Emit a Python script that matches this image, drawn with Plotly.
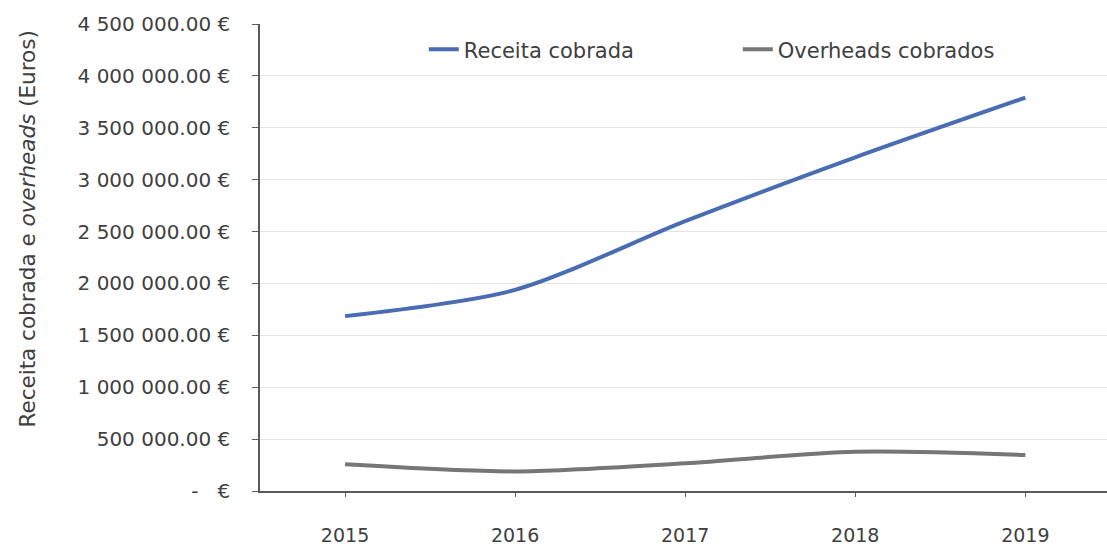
import plotly.graph_objects as go

# Annual values (EUR)
years = ["2015", "2016", "2017", "2018", "2019"]
receita_cobrada = [1685000, 1938000, 2600000, 3215000, 3790000]
overheads_cobrados = [258000, 189000, 268000, 378000, 347000]

# Y-axis ticks in accounting style: "4 500 000.00 €", zero shown as "- €"
y_ticks = [0, 500000, 1000000, 1500000, 2000000, 2500000, 3000000, 3500000, 4000000, 4500000]


def euro_label(v):
    if v == 0:
        return "-\u00a0\u00a0\u00a0€"
    return f"{v:,.2f}".replace(",", "\u00a0") + "\u00a0€"


y_ticktext = [euro_label(v) for v in y_ticks]

FONT = "DejaVu Sans"
TEXT_COLOR = "#404040"

fig = go.Figure()
fig.add_trace(go.Scatter(
    x=years, y=receita_cobrada, name="Receita cobrada", mode="lines",
    line=dict(color="#4A6CB3", width=4, shape="spline", smoothing=0.8),
))
fig.add_trace(go.Scatter(
    x=years, y=overheads_cobrados, name="Overheads cobrados", mode="lines",
    line=dict(color="#767676", width=4, shape="spline", smoothing=0.8),
))

fig.update_layout(
    width=1107, height=546,
    margin=dict(l=260, r=0, t=24, b=46),
    paper_bgcolor="white", plot_bgcolor="white",
    font=dict(family=FONT, size=19, color=TEXT_COLOR),
    showlegend=True,
    legend=dict(
        orientation="h", x=0.1934, y=0.945, xanchor="left", yanchor="middle",
        bgcolor="rgba(0,0,0,0)", font=dict(family=FONT, size=21, color=TEXT_COLOR),
        entrywidth=269, entrywidthmode="pixels", itemwidth=30,
    ),
    xaxis=dict(
        type="category", range=[-0.5, 4.48],
        showgrid=False, zeroline=False,
        showline=True, linecolor="#595959", linewidth=1.5,
        ticks="outside", ticklen=4, tickcolor="#595959",
        ticklabelstandoff=22,
        tickfont=dict(family=FONT, size=19, color=TEXT_COLOR),
    ),
    yaxis=dict(
        range=[0, 4500000],
        tickvals=y_ticks, ticktext=y_ticktext,
        showgrid=True, gridcolor="#E4E4E4", gridwidth=1,
        zeroline=False,
        showline=True, linecolor="#595959", linewidth=1.5,
        ticks="outside", ticklen=6, tickcolor="#595959",
        ticklabelstandoff=18,
        tickfont=dict(family=FONT, size=20, color=TEXT_COLOR),
    ),
    annotations=[dict(
        text="Receita cobrada e <i>overheads</i> (Euros)",
        xref="paper", yref="paper",
        x=-0.275, y=0.56, xanchor="center", yanchor="middle",
        textangle=-90, showarrow=False,
        font=dict(family=FONT, size=21.5, color=TEXT_COLOR),
    )],
)

fig.write_html("out.html")
